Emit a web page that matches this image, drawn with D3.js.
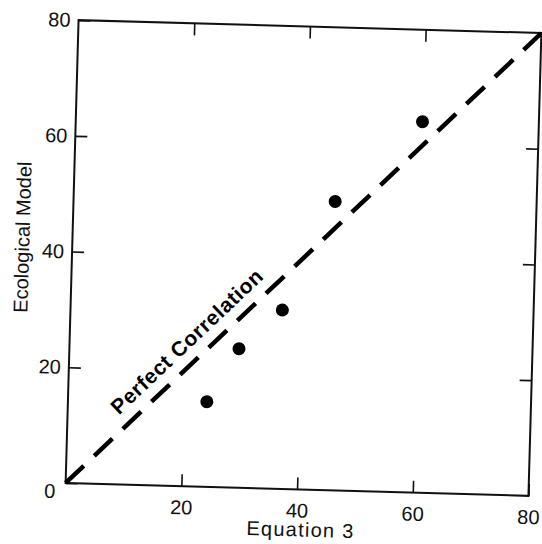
<!DOCTYPE html>
<html>
<head>
<meta charset="utf-8">
<script src="https://cdn.jsdelivr.net/npm/d3@7"></script>
<style>
  body { margin: 0; background: #fff; }
  svg { display: block; }
  .tick text { font-family: "Liberation Sans", Arial, sans-serif; font-size: 20px; fill: #111; }
</style>
</head>
<body>
<div class="chart"></div>
<script>
// values
const equation3 = [24, 29.3, 36.6, 45.2, 59.9];
const ecological = [14.7, 24, 30.9, 49.9, 64.1];
const xTicks = [20, 40, 60, 80];
const yTicks = [0, 20, 40, 60, 80];
const lineEnds = [0, 80];

const W = 542, H = 544;
const margin = {left: 72, top: 26.5};
const width = 463, height = 463;

const svg = d3.select(".chart").append("svg")
  .attr("width", W)
  .attr("height", H);

// the scanned figure sits slightly skewed, so turn the whole plot a little
const cx = margin.left + width / 2, cy = margin.top + height / 2;
const g = svg.append("g")
  .attr("transform", "rotate(1.6," + cx + "," + cy + ") translate(" + margin.left + "," + margin.top + ")");

const x = d3.scaleLinear().domain([0, 80]).range([0, width]);
const y = d3.scaleLinear().domain([0, 80]).range([height, 0]);

// frame
g.append("rect")
  .attr("width", width)
  .attr("height", height)
  .attr("fill", "none")
  .attr("stroke", "#111")
  .attr("stroke-width", 2);

const tick = 12;

const xAxis = g.append("g")
  .attr("transform", "translate(0," + height + ")")
  .call(d3.axisBottom(x).tickValues(xTicks).tickSize(-tick).tickPadding(14).tickFormat(d3.format("d")));

const yAxis = g.append("g")
  .call(d3.axisLeft(y).tickValues(yTicks).tickSize(-tick).tickPadding(8).tickFormat(d3.format("d")));

g.append("g")
  .call(d3.axisTop(x).tickValues(xTicks.slice(0, 3)).tickSize(-tick).tickFormat(""));

g.append("g")
  .attr("transform", "translate(" + width + ",0)")
  .call(d3.axisRight(y).tickValues(yTicks.slice(1, 4)).tickSize(-tick).tickFormat(""));

g.selectAll(".domain").remove();
g.selectAll(".tick line").attr("stroke", "#111").attr("stroke-width", 1.6);

// the 0 sits a bit lower than its corner
yAxis.selectAll(".tick text").filter(d => d === 0).attr("dy", "0.75em").attr("x", -10);

// perfect correlation line
g.append("line")
  .attr("x1", x(lineEnds[0])).attr("y1", y(lineEnds[0]))
  .attr("x2", x(lineEnds[1])).attr("y2", y(lineEnds[1]))
  .attr("stroke", "#000")
  .attr("stroke-width", 4.5)
  .attr("stroke-dasharray", "25 14.4");

g.append("text")
  .attr("transform", "translate(" + x(8.9) + "," + y(11.9) + ") rotate(-45)")
  .style("font-family", "\"Liberation Sans\", Arial, sans-serif")
  .style("font-size", "21px")
  .style("font-weight", "bold")
  .attr("textLength", 200)
  .attr("fill", "#000")
  .text("Perfect Correlation");

// points
g.selectAll(".dot")
  .data(equation3)
  .enter()
  .append("circle")
  .attr("class", "dot")
  .attr("cx", d => x(d))
  .attr("cy", (d, i) => y(ecological[i]))
  .attr("r", 6.5)
  .attr("fill", "#000");

// axis titles
g.append("text")
  .attr("x", width / 2 + 4)
  .attr("y", height + 47)
  .attr("text-anchor", "middle")
  .style("font-family", "\"Liberation Sans\", Arial, sans-serif")
  .style("font-size", "20px")
  .attr("textLength", 107)
  .attr("fill", "#111")
  .text("Equation 3");

g.append("text")
  .attr("transform", "translate(" + (-50) + "," + (height / 2 - 13) + ") rotate(-90)")
  .attr("text-anchor", "middle")
  .attr("dy", "0.35em")
  .style("font-family", "\"Liberation Sans\", Arial, sans-serif")
  .style("font-size", "20px")
  .attr("fill", "#111")
  .text("Ecological Model");
</script>
</body>
</html>
